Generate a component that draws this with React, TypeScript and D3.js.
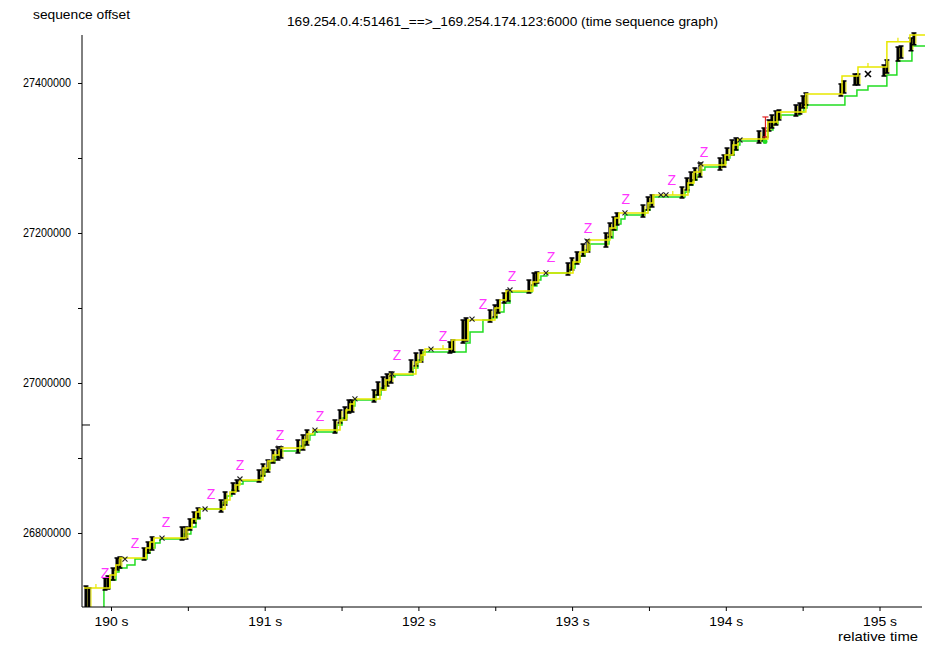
import React, { useEffect, useRef } from "react";
import * as d3 from "d3";

const WIDTH = 946;
const HEIGHT = 646;
const FONT = "'Liberation Sans', Arial, sans-serif";

// Visible window of the trace
const TIME_RANGE = [189.8113, 195.2765];
const SEQ_RANGE = [26701333, 27464000];

// Axis ticks
const timeTicks = [190, 190.5, 191, 191.5, 192, 192.5, 193, 193.5, 194, 194.5, 195];
const timeLabelled = [190, 191, 192, 193, 194, 195];
const seqTicks = [26800000, 26900000, 27000000, 27100000, 27200000, 27300000, 27400000];
const seqLabelled = [26800000, 27000000, 27200000, 27400000];
const cursorSeq = 26944000;

// Data segments sent: time (s), first and last sequence offset, one line per burst
const segTime = [
  189.837, 189.857,
  189.961, 189.98,
  190.013, 190.039, 190.058,
  190.215, 190.241, 190.267,
  190.462, 190.488,
  190.514, 190.54, 190.566,
  190.716, 190.742, 190.794, 190.82,
  190.963, 190.989, 191.021,
  191.054, 191.086, 191.106,
  191.216, 191.249, 191.275,
  191.457, 191.49, 191.522, 191.548, 191.568,
  191.711, 191.737, 191.77, 191.796, 191.822,
  191.952, 191.984, 192.017,
  192.205, 192.225,
  192.29, 192.31,
  192.466, 192.498, 192.518,
  192.557, 192.583,
  192.719, 192.752, 192.771,
  192.973, 192.999, 193.032, 193.071, 193.103,
  193.22, 193.246, 193.272, 193.292,
  193.461, 193.494, 193.52,
  193.715, 193.747, 193.773, 193.799, 193.832,
  193.962, 193.988,
  194.008, 194.04, 194.066,
  194.216, 194.248, 194.281, 194.3, 194.326, 194.346,
  194.456, 194.482, 194.502, 194.521,
  194.749, 194.769,
  194.84, 194.86,
  195.029, 195.048,
  195.12, 195.14,
  195.205, 195.224,
];
const segLo = [
  26697300, 26697300,
  26724000, 26725300,
  26737300, 26750700, 26753300,
  26764000, 26773300, 26777300,
  26790700, 26792000,
  26804000, 26813300, 26820000,
  26828000, 26837300, 26852000, 26856000,
  26868000, 26876000, 26881300,
  26893300, 26897300, 26900000,
  26906700, 26910700, 26917300,
  26933300, 26946700, 26950700, 26960000, 26961300,
  26974700, 26984000, 26990700, 26996000, 27000000,
  27014700, 27022700, 27028000,
  27040000, 27041300,
  27053300, 27056000,
  27081300, 27088000, 27093300,
  27106700, 27109300,
  27120000, 27130700, 27133300,
  27144000, 27150700, 27158700, 27169300, 27174700,
  27181300, 27194700, 27204000, 27210700,
  27221300, 27230700, 27234700,
  27246700, 27257300, 27264000, 27270700, 27274700,
  27284000, 27288000,
  27297300, 27304000, 27310700,
  27320000, 27322700, 27336000, 27340000, 27344000, 27350700,
  27356000, 27358700, 27366700, 27370700,
  27382700, 27386700,
  27397300, 27397300,
  27409300, 27413300,
  27429300, 27433300,
  27443000, 27451000,
];
const segHi = [
  26729300, 26726700,
  26740000, 26742700,
  26753300, 26766700, 26768000,
  26780000, 26788000, 26794700,
  26808000, 26808000,
  26818700, 26828000, 26833300,
  26844000, 26854700, 26866700, 26870700,
  26884000, 26892000, 26897300,
  26910700, 26914700, 26914700,
  26924000, 26930700, 26937300,
  26950700, 26964000, 26968000, 26977300, 26977300,
  26990700, 27001300, 27008000, 27012000, 27014700,
  27030700, 27040000, 27044000,
  27054700, 27057300,
  27084000, 27086700,
  27097300, 27104000, 27110700,
  27120000, 27124000,
  27137300, 27146700, 27148000,
  27160000, 27166700, 27174700, 27185300, 27190700,
  27200000, 27213300, 27221300, 27226700,
  27237300, 27248000, 27250700,
  27261300, 27273300, 27281300, 27286700, 27293300,
  27300000, 27304000,
  27313300, 27324000, 27326700,
  27336000, 27340000, 27350700, 27357300, 27362700, 27364000,
  27370700, 27373300, 27382700, 27386700,
  27398700, 27402700,
  27412000, 27412000,
  27424000, 27430700,
  27448000, 27449300,
  27460000, 27466700,
];

// Cumulative ACK received (green step line)
const ackTime = [
  189.824, 189.954, 189.993, 190.032, 190.052, 190.104, 190.156,
  190.234, 190.254, 190.286, 190.319,
  190.475, 190.52, 190.553, 190.579,
  190.722, 190.755, 190.787, 190.826, 190.859,
  190.976, 191.002, 191.034, 191.067, 191.099,
  191.229, 191.262, 191.294, 191.327,
  191.47, 191.503, 191.535, 191.561, 191.587,
  191.724, 191.757, 191.789, 191.822, 191.848,
  191.965, 191.997, 192.03,
  192.31, 192.336, 192.42, 192.479, 192.511, 192.557, 192.596,
  192.739, 192.771, 192.797, 192.836,
  192.986, 193.019, 193.051, 193.084, 193.116,
  193.24, 193.266, 193.292, 193.318, 193.344,
  193.474, 193.507, 193.526,
  193.734, 193.76, 193.786, 193.812, 193.838, 193.864,
  193.975, 194.001, 194.027, 194.053, 194.079, 194.092,
  194.242, 194.274, 194.307, 194.339, 194.359,
  194.482, 194.508, 194.528,
  194.775, 194.853, 194.925, 195.048, 195.113, 195.211, 195.296,
];
const ackSeq = [
  26684000, 26726700, 26737300, 26748000, 26753300, 26757300, 26765300,
  26773300, 26780000, 26786700, 26792000,
  26798700, 26808000, 26818700, 26832000,
  26840000, 26849300, 26857300, 26865300, 26869300,
  26877300, 26885300, 26894700, 26901300, 26909300,
  26916000, 26924000, 26930700, 26934700,
  26944000, 26953300, 26961300, 26969300, 26977300,
  26984000, 26993300, 27001300, 27008000, 27010700,
  27020000, 27030700, 27041300,
  27053300, 27068000, 27084000, 27086700, 27094700, 27106700, 27121300,
  27129300, 27137300, 27142700, 27146700,
  27153300, 27161300, 27169300, 27177300, 27185300,
  27193300, 27204000, 27212000, 27218700, 27224000,
  27230700, 27240000, 27248000,
  27254700, 27264000, 27270700, 27277300, 27284000, 27288000,
  27293300, 27300000, 27304000, 27310700, 27317300, 27322700,
  27328000, 27337300, 27345300, 27353300, 27357300,
  27361300, 27366700, 27370700,
  27382700, 27390700, 27396000, 27410700, 27429300, 27449300, 27449300,
];

// Advertised window edge (yellow step line)
const winTime = [
  189.824, 189.993, 190.032, 190.058,
  190.228, 190.254, 190.28,
  190.488, 190.527, 190.553, 190.573,
  190.742, 190.774, 190.813, 190.839,
  190.989, 191.021, 191.054, 191.093,
  191.249, 191.275, 191.314,
  191.49, 191.529, 191.555, 191.581,
  191.75, 191.789, 191.815,
  191.984, 192.017, 192.043,
  192.218, 192.323,
  192.498, 192.531, 192.57,
  192.745, 192.778,
  193.006, 193.051, 193.103,
  193.246, 193.279, 193.305,
  193.494, 193.526,
  193.754, 193.793, 193.832,
  193.995, 194.047, 194.079,
  194.274, 194.333,
  194.521, 194.756, 194.86, 195.048, 195.198, 195.296,
];
const winSeq = [
  26726700, 26744000, 26757300, 26766700,
  26780000, 26788000, 26793300,
  26806700, 26818700, 26828000, 26832000,
  26844000, 26854700, 26864000, 26870700,
  26886700, 26896000, 26904000, 26913300,
  26924000, 26932000, 26937300,
  26950700, 26964000, 26972000, 26978700,
  26990700, 27004000, 27012000,
  27028000, 27037300, 27045300,
  27057300, 27084000,
  27100000, 27110700, 27122700,
  27134700, 27146700,
  27161300, 27174700, 27190700,
  27206700, 27220000, 27226700,
  27240000, 27250700,
  27266700, 27281300, 27290700,
  27304000, 27317300, 27325300,
  27348000, 27361300,
  27385300, 27409300, 27421300, 27455000, 27464000, 27464000,
];

// Small ticks on the window line
const winTickTime = [189.902, 192.16, 193.655, 194.925, 195.12];
const winTickSeq = [26726700, 27045300, 27250700, 27421300, 27455000];

// Zero-window markers
const zeroTime = [
  189.961, 190.156, 190.358, 190.651, 190.839, 191.099, 191.36, 191.861,
  192.16, 192.42, 192.609, 192.863, 193.103, 193.35, 193.649, 193.858,
];
const zeroSeq = [
  26746700, 26786700, 26814700, 26852000, 26890700, 26930700, 26956000, 27037300,
  27062700, 27105300, 27142700, 27168000, 27206700, 27245300, 27270700, 27308000,
];

// Window-probe crosses
const probeTime = [
  190.091, 190.332, 190.612, 190.839, 191.093, 191.327, 191.587, 191.828,
  192.082, 192.349, 192.596, 192.83, 193.097, 193.344, 193.578, 193.611,
  193.838, 194.092,
];
const probeSeq = [
  26765300, 26793300, 26832000, 26872000, 26913300, 26937300, 26978700, 27012000,
  27045300, 27085300, 27124000, 27146700, 27189300, 27226700, 27250700, 27250700,
  27292000, 27324000,
];
const bigProbeTime = [194.925];
const bigProbeSeq = [27412000];

// Retransmitted segment
const retransTime = [194.258];
const retransLo = [27328000];
const retransHi = [27354700];
const sackTime = [194.255];
const sackSeq = [27322000];

const BLACK = "#000";
const GREEN = "#22dd22";
const YELLOW = "#e8e800";
const MAGENTA = "#ff33ff";
const RED = "#e02020";

export default function App() {
  const xAxisRef = useRef<SVGGElement>(null);
  const yAxisRef = useRef<SVGGElement>(null);

  const x = d3.scaleLinear().domain(TIME_RANGE).range([82, 922]);
  const y = d3.scaleLinear().domain(SEQ_RANGE).range([607, 35]);

  useEffect(() => {
    const xa = d3
      .axisBottom(x)
      .tickValues(timeTicks)
      .tickSize(4)
      .tickPadding(6)
      .tickFormat((d) => (timeLabelled.includes(+d) ? `${d3.format("d")(+d)} s` : ""));
    const gx = d3.select(xAxisRef.current!);
    gx.call(xa as any);
    gx.select(".domain").attr("d", `M82,0H922`).attr("stroke", BLACK);
    gx.selectAll("text")
      .attr("font-family", FONT)
      .attr("font-size", 13)
      .attr("fill", "#000")
      .each(function () {
        const t = d3.select(this);
        if (t.text()) t.attr("textLength", 34).attr("lengthAdjust", "spacingAndGlyphs");
      });

    const ya = d3
      .axisLeft(y)
      .tickValues(seqTicks)
      .tickSize(4)
      .tickPadding(7)
      .tickFormat((d) => (seqLabelled.includes(+d) ? d3.format("d")(+d) : ""));
    const gy = d3.select(yAxisRef.current!);
    gy.call(ya as any);
    gy.select(".domain").attr("d", `M0,35V607`).attr("stroke", BLACK);
    gy.selectAll("text")
      .attr("font-family", FONT)
      .attr("font-size", 12)
      .attr("fill", "#000")
      .each(function () {
        const t = d3.select(this);
        if (t.text()) t.attr("textLength", 48).attr("lengthAdjust", "spacingAndGlyphs");
      });
  }, []);

  const ackLine = d3
    .line<number>()
    .curve(d3.curveStepAfter)
    .x((_, i) => x(ackTime[i]))
    .y((_, i) => y(ackSeq[i]));
  const winLine = d3
    .line<number>()
    .curve(d3.curveStepAfter)
    .x((_, i) => x(winTime[i]))
    .y((_, i) => y(winSeq[i]));

  return (
    <svg
      width={WIDTH}
      height={HEIGHT}
      style={{ position: "absolute", left: 0, top: 0, background: "#fff" }}
    >
      <defs>
        <clipPath id="plotArea">
          <rect x={82} y={28} width={848} height={579} />
        </clipPath>
      </defs>
      <rect width={WIDTH} height={HEIGHT} fill="#fff" />

      <text
        x={33}
        y={19}
        fontFamily={FONT}
        fontSize={13}
        textLength={97}
        lengthAdjust="spacingAndGlyphs"
      >
        sequence offset
      </text>
      <text
        x={287}
        y={26}
        fontFamily={FONT}
        fontSize={13}
        textLength={431}
        lengthAdjust="spacingAndGlyphs"
      >
        169.254.0.4:51461_==&gt;_169.254.174.123:6000 (time sequence graph)
      </text>

      <g clipPath="url(#plotArea)">
        <path d={ackLine(ackTime) || ""} fill="none" stroke={GREEN} strokeWidth={1.5} />

        {segTime.map((t, i) => {
          const cx = x(t);
          const y0 = y(segLo[i]);
          const y1 = y(segHi[i]);
          return (
            <g key={`s${i}`}>
              <line x1={cx} x2={cx} y1={y0} y2={y1} stroke={BLACK} strokeWidth={3} />
              <line x1={cx - 2.5} x2={cx + 2.5} y1={y1} y2={y1} stroke={BLACK} strokeWidth={1.5} />
              <line x1={cx - 2.5} x2={cx + 2.5} y1={y0} y2={y0} stroke={BLACK} strokeWidth={1.5} />
              <line x1={cx + 2} x2={cx + 2} y1={y0 - 1} y2={y1 + 1} stroke={YELLOW} strokeWidth={1} />
            </g>
          );
        })}

        {retransTime.map((t, i) => (
          <g key={`r${i}`} stroke={RED} fill="none" strokeWidth={1.2}>
            <line x1={x(t)} x2={x(t)} y1={y(retransLo[i])} y2={y(retransHi[i])} />
            <line x1={x(t) - 3} x2={x(t) + 3} y1={y(retransHi[i])} y2={y(retransHi[i])} />
            <line x1={x(t) - 3} x2={x(t) + 3} y1={y(retransLo[i])} y2={y(retransLo[i])} />
          </g>
        ))}
        {sackTime.map((t, i) => (
          <circle key={`k${i}`} cx={x(t)} cy={y(sackSeq[i])} r={2.5} fill={GREEN} />
        ))}

        <path d={winLine(winTime) || ""} fill="none" stroke={YELLOW} strokeWidth={1.5} />
        {winTickTime.map((t, i) => (
          <line
            key={`w${i}`}
            x1={x(t)}
            x2={x(t)}
            y1={y(winTickSeq[i])}
            y2={y(winTickSeq[i]) - 4}
            stroke={YELLOW}
            strokeWidth={1.2}
          />
        ))}

        {probeTime.map((t, i) => {
          const cx = x(t);
          const cy = y(probeSeq[i]);
          return (
            <path
              key={`p${i}`}
              d={`M${cx - 2.5},${cy - 2.5}L${cx + 2.5},${cy + 2.5}M${cx - 2.5},${cy + 2.5}L${cx + 2.5},${cy - 2.5}`}
              stroke="#222"
              strokeWidth={1.1}
            />
          );
        })}
        {bigProbeTime.map((t, i) => {
          const cx = x(t);
          const cy = y(bigProbeSeq[i]);
          return (
            <path
              key={`b${i}`}
              d={`M${cx - 3},${cy - 3}L${cx + 3},${cy + 3}M${cx - 3},${cy + 3}L${cx + 3},${cy - 3}`}
              stroke={BLACK}
              strokeWidth={1.6}
            />
          );
        })}

        {zeroTime.map((t, i) => (
          <text
            key={`z${i}`}
            x={x(t)}
            y={y(zeroSeq[i])}
            dy="0.35em"
            textAnchor="middle"
            fontFamily={FONT}
            fontSize={14}
            fill={MAGENTA}
          >
            Z
          </text>
        ))}
      </g>

      <line
        x1={82}
        x2={90}
        y1={y(cursorSeq)}
        y2={y(cursorSeq)}
        stroke={BLACK}
        strokeWidth={1}
      />

      <g ref={xAxisRef} transform="translate(0,607)" />
      <g ref={yAxisRef} transform="translate(82,0)" />

      <text
        x={838}
        y={641}
        fontFamily={FONT}
        fontSize={13}
        textLength={80}
        lengthAdjust="spacingAndGlyphs"
      >
        relative time
      </text>
    </svg>
  );
}
